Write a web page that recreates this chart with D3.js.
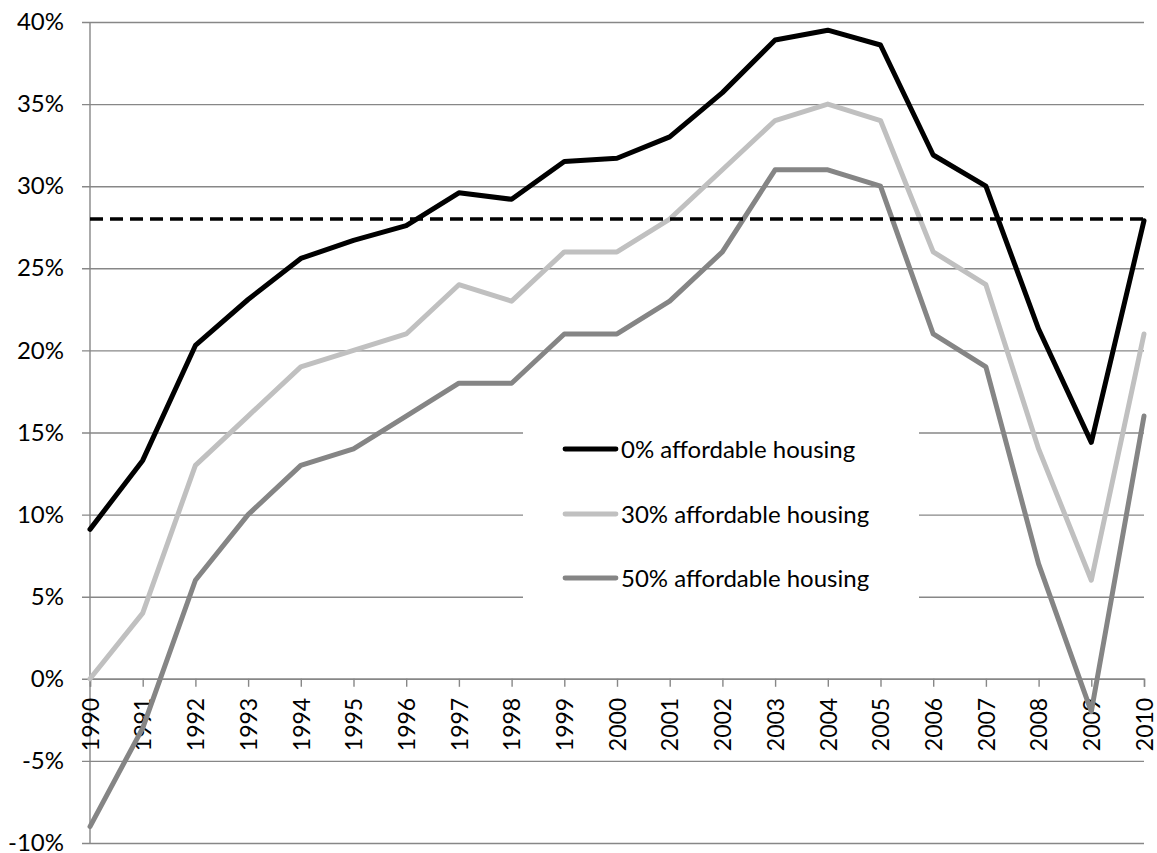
<!DOCTYPE html>
<html>
<head>
<meta charset="utf-8">
<script src="https://cdn.jsdelivr.net/npm/d3@7"></script>
<style>
  body { margin: 0; background: #fff; }
  svg text { font-family: Lato, "Open Sans", sans-serif; fill: #000; }
</style>
</head>
<body>
<svg id="chart" width="1157" height="853"></svg>
<script>
// years on the x axis
var years = d3.range(1990, 2011);

// series values, percent
var aff0 = [9.1, 13.3, 20.3, 23.1, 25.6, 26.7, 27.6, 29.6, 29.2, 31.5, 31.7, 33.0, 35.7, 38.9, 39.5, 38.6, 31.9, 30.0, 21.3, 14.4, 27.9];
var aff30 = [0, 4, 13, 16, 19, 20, 21, 24, 23, 26, 26, 28, 31, 34, 35, 34, 26, 24, 14, 6, 21];
var aff50 = [-9, -3, 6, 10, 13, 14, 16, 18, 18, 21, 21, 23, 26, 31, 31, 30, 21, 19, 7, -2, 16];

var seriesNames = ["0% affordable housing", "30% affordable housing", "50% affordable housing"];
var seriesColors = ["#000000", "#c0c0c0", "#858585"];
var threshold = 28;

var yTicks = d3.range(-10, 41, 5);

var svg = d3.select("#chart");

var x = d3.scaleLinear().domain([1990, 2010]).range([90, 1144]);
var y = d3.scaleLinear().domain([-10, 40]).range([843, 22]);

var gridColor = "#878787";
var fontSize = "24px";

// horizontal gridlines + y tick labels
var yAxis = d3.axisLeft(y)
  .tickValues(yTicks)
  .tickSize(-(1144 - 82))
  .tickPadding(18)
  .tickFormat(function (d) { return d + "%"; });

var gy = svg.append("g")
  .attr("transform", "translate(82,0)")
  .call(yAxis);
gy.select(".domain").remove();
gy.selectAll(".tick line").attr("stroke", gridColor).attr("stroke-width", 1.4);
gy.selectAll(".tick text")
  .attr("x", -18)
  .style("font-size", fontSize)
  .attr("dy", "0.32em");

// vertical axis line
svg.append("line")
  .attr("x1", x(1990)).attr("x2", x(1990))
  .attr("y1", y(40)).attr("y2", y(-10))
  .attr("stroke", gridColor).attr("stroke-width", 1.4);

// x axis sits at 0%
var xAxis = d3.axisBottom(x)
  .tickValues(years)
  .tickSize(8)
  .tickFormat(d3.format("d"));

var gx = svg.append("g")
  .attr("transform", "translate(0," + y(0) + ")")
  .call(xAxis);
gx.select(".domain").attr("stroke", gridColor).attr("stroke-width", 1.4);
gx.selectAll(".tick line").attr("stroke", gridColor).attr("stroke-width", 1.4);
gx.selectAll(".tick text")
  .style("font-size", "23px")
  .attr("transform", "rotate(-90)")
  .attr("text-anchor", "end")
  .attr("x", -19)
  .attr("y", 0)
  .attr("dy", "0.36em");

// legend box (covers gridlines)
var legend = svg.append("g");
legend.append("rect")
  .attr("x", 523).attr("y", 416)
  .attr("width", 396).attr("height", 194)
  .attr("fill", "#fff");

var legendRows = [449, 514, 578];
seriesNames.forEach(function (name, i) {
  legend.append("line")
    .attr("x1", 565).attr("x2", 616)
    .attr("y1", legendRows[i]).attr("y2", legendRows[i])
    .attr("stroke", seriesColors[i])
    .attr("stroke-width", 4.8)
    .attr("stroke-linecap", "round");
  legend.append("text")
    .attr("x", 621).attr("y", legendRows[i])
    .attr("dy", "0.36em")
    .style("font-size", fontSize)
    .text(name);
});

// series lines
var line = d3.line()
  .x(function (d, i) { return x(years[i]); })
  .y(function (d) { return y(d); });

[aff0, aff30, aff50].forEach(function (vals, i) {
  svg.append("path")
    .datum(vals)
    .attr("d", line)
    .attr("fill", "none")
    .attr("stroke", seriesColors[i])
    .attr("stroke-width", 5)
    .attr("stroke-linejoin", "round")
    .attr("stroke-linecap", "round");
});

// 28% reference line
svg.append("line")
  .attr("x1", x(1990)).attr("x2", x(2010))
  .attr("y1", y(threshold)).attr("y2", y(threshold))
  .attr("stroke", "#000")
  .attr("stroke-width", 3.5)
  .attr("stroke-dasharray", "13,7");
</script>
</body>
</html>
